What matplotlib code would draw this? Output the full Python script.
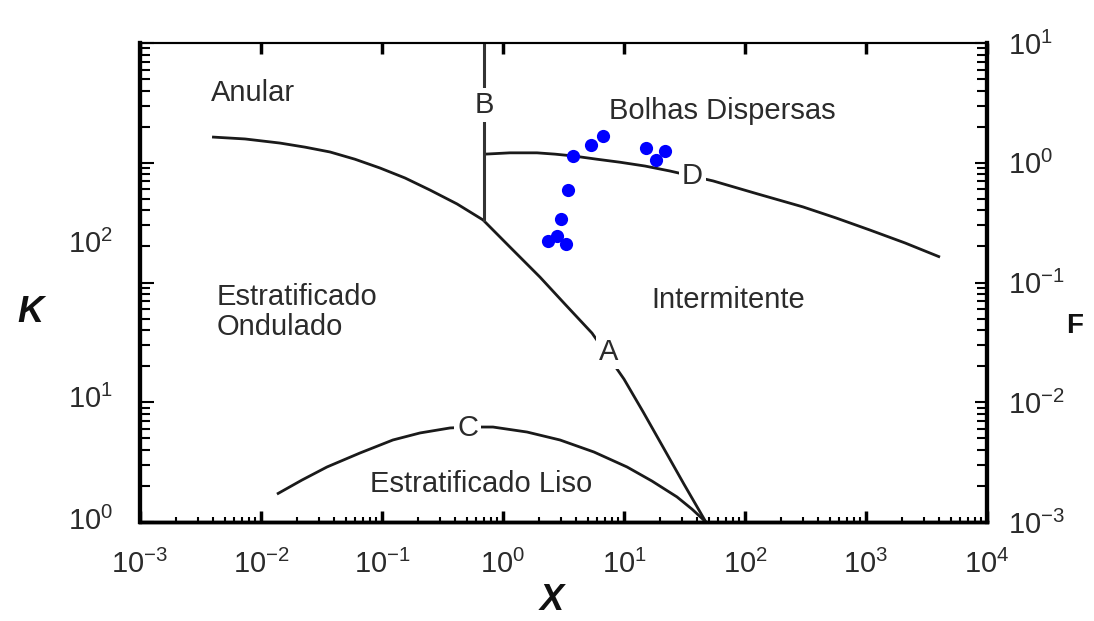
import numpy as np
import matplotlib
matplotlib.use("Agg")
import matplotlib.pyplot as plt
from matplotlib.ticker import LogLocator, NullFormatter

plt.rcParams["font.family"] = ["Liberation Sans", "DejaVu Sans"]
plt.rcParams["mathtext.fontset"] = "custom"
plt.rcParams["mathtext.rm"] = "Liberation Sans"
plt.rcParams["mathtext.it"] = "Liberation Sans:italic"
plt.rcParams["mathtext.bf"] = "Liberation Sans:bold"
plt.rcParams["mathtext.default"] = "regular"

# fronteiras do mapa de Taitel-Dukler
curva_a_x = [0.00394, 0.00738, 0.01436, 0.0231, 0.0372, 0.0598, 0.0962, 0.155, 0.249, 0.417,
             0.684, 1.14, 2.02, 3.25, 5.44, 7.38, 10.0, 14.4, 21.0, 31.3, 47.5]
curva_a_f = [1.64, 1.58, 1.46, 1.35, 1.23, 1.07, 0.904, 0.746, 0.592, 0.453,
             0.333, 0.198, 0.111, 0.0660, 0.0378, 0.0243, 0.0156, 0.00830, 0.00423, 0.00207, 0.001]
curva_b_x = [0.70, 0.70]
curva_b_f = [0.333, 10.0]
curva_c_x = [0.01355, 0.0218, 0.0351, 0.0658, 0.123, 0.206, 0.365, 0.533, 0.826,
             1.58, 2.96, 5.65, 10.6, 17.0, 27.4, 36.5, 47.5]
curva_c_k = [1.71, 2.24, 2.88, 3.77, 4.84, 5.54, 6.10, 6.21, 6.21,
             5.64, 4.84, 3.84, 2.88, 2.20, 1.62, 1.28, 1.0]
curva_d_x = [0.710, 1.14, 1.91, 2.69, 3.79, 5.98, 9.27, 14.9, 24.0, 36.5, 54.5,
             128.0, 301.0, 565.0, 1080.0, 2100.0, 4090.0]
curva_d_f = [1.18, 1.21, 1.21, 1.18, 1.14, 1.07, 1.01, 0.939, 0.853, 0.774, 0.705,
             0.548, 0.428, 0.346, 0.274, 0.214, 0.163]

# pontos experimentais
pontos_x = [2.36, 2.79, 3.32, 3.02, 3.44, 3.79, 5.34, 6.70, 15.2, 18.4, 21.8]
pontos_f = [0.222, 0.244, 0.209, 0.339, 0.591, 1.14, 1.41, 1.67, 1.33, 1.05, 1.25]

rotulos_k = ["$10^{0}$", "$10^{1}$", "$10^{2}$"]
rotulos_k_pos = [0.85, 9.0, 175.0]

cor_txt = "#2b2b2b"
W, H = 1094, 621
fig = plt.figure(figsize=(W / 100, H / 100), dpi=100)
ax = fig.add_axes([140 / W, 1 - 522 / H, (987 - 140) / W, (522 - 43) / H])
ax.set_xscale("log")
ax.set_yscale("log")
ax.set_xlim(1e-3, 1e4)
ax.set_ylim(1e0, 1e4)

ax2 = ax.twinx()
ax2.set_yscale("log")
ax2.set_ylim(1e-3, 1e1)

# curvas
estilo = dict(color="#1a1a1a", lw=2.0, solid_joinstyle="round", solid_capstyle="butt", zorder=2)
ax2.plot(curva_a_x, curva_a_f, **estilo)
ax2.plot(curva_d_x, curva_d_f, **estilo)
ax.plot(curva_c_x, curva_c_k, **estilo)
ax2.plot(curva_b_x, curva_b_f, color="#333333", lw=2.2, zorder=2)
ax2.plot(pontos_x, pontos_f, "o", color="#0000ff", ms=9.5, mec="none", zorder=4)

# rotulos das regioes
fs = 21
kw = dict(transform=ax.transAxes, color=cor_txt, fontsize=fs)
ax2.text(0.133, 0.896, "Anular", ha="center", va="center", **kw)
ax2.text(0.688, 0.858, "Bolhas Dispersas", ha="center", va="center", **kw)
ax2.text(0.090, 0.438, "Estratificado\nOndulado", ha="left", va="center", linespacing=1.1, **kw)
ax2.text(0.694, 0.463, "Intermitente", ha="center", va="center", **kw)
ax2.text(0.403, 0.079, "Estratificado Liso", ha="center", va="center", **kw)
box = dict(facecolor="white", edgecolor="none", pad=2.0)
for lab, px, py in [("A", 0.553, 0.355), ("B", 0.406, 0.871), ("C", 0.387, 0.196), ("D", 0.652, 0.722)]:
    ax2.text(px, py, lab, ha="center", va="center", bbox=box, zorder=3, **kw)

# eixos
for a in (ax, ax2):
    a.yaxis.set_minor_locator(LogLocator(base=10, subs=np.arange(2, 10), numticks=100))
    a.yaxis.set_major_locator(LogLocator(base=10, numticks=100))
    a.yaxis.set_minor_formatter(NullFormatter())
ax.xaxis.set_major_locator(LogLocator(base=10, numticks=100))
ax.xaxis.set_minor_locator(LogLocator(base=10, subs=np.arange(2, 10), numticks=100))
ax.xaxis.set_minor_formatter(NullFormatter())

ax.tick_params(axis="x", which="major", direction="in", length=8, width=2.5,
               top=True, labelsize=fs, labelcolor=cor_txt, pad=20)
ax.tick_params(axis="x", which="minor", direction="in", length=3.5, width=1.5, top=False)
ax.tick_params(axis="y", which="major", direction="in", length=10, width=1.5,
               left=True, right=False, labelleft=False)
ax.tick_params(axis="y", which="minor", direction="in", length=7, width=1.5, right=False)
ax2.tick_params(axis="y", which="major", direction="in", length=9, width=1.5,
                labelsize=fs, labelcolor=cor_txt, pad=15)
ax2.tick_params(axis="y", which="minor", direction="in", length=7, width=1.5)

for a in (ax, ax2):
    a.spines["left"].set_linewidth(3)
    a.spines["right"].set_linewidth(3)
    a.spines["bottom"].set_linewidth(2.5)
    a.spines["top"].set_linewidth(1.5)

# rotulos do eixo K (posicionados como na figura original)
for lab, pos in zip(rotulos_k, rotulos_k_pos):
    ax.text(-0.032, pos, lab, transform=ax.get_yaxis_transform(), ha="right",
            va="baseline", fontsize=fs, color=cor_txt, clip_on=False)

fig.text(30 / W, 1 - 313 / H, "K", fontsize=26, fontweight="bold", fontstyle="italic",
         ha="center", va="center", color="#111111")
fig.text(552 / W, 1 - 600 / H, "X", fontsize=26, fontweight="bold", fontstyle="italic",
         ha="center", va="center", color="#111111")
fig.text(1075 / W, 1 - 326 / H, "F", fontsize=20, fontweight="bold",
         ha="center", va="center", color="#111111")

fig.savefig("out.png", dpi=100)
